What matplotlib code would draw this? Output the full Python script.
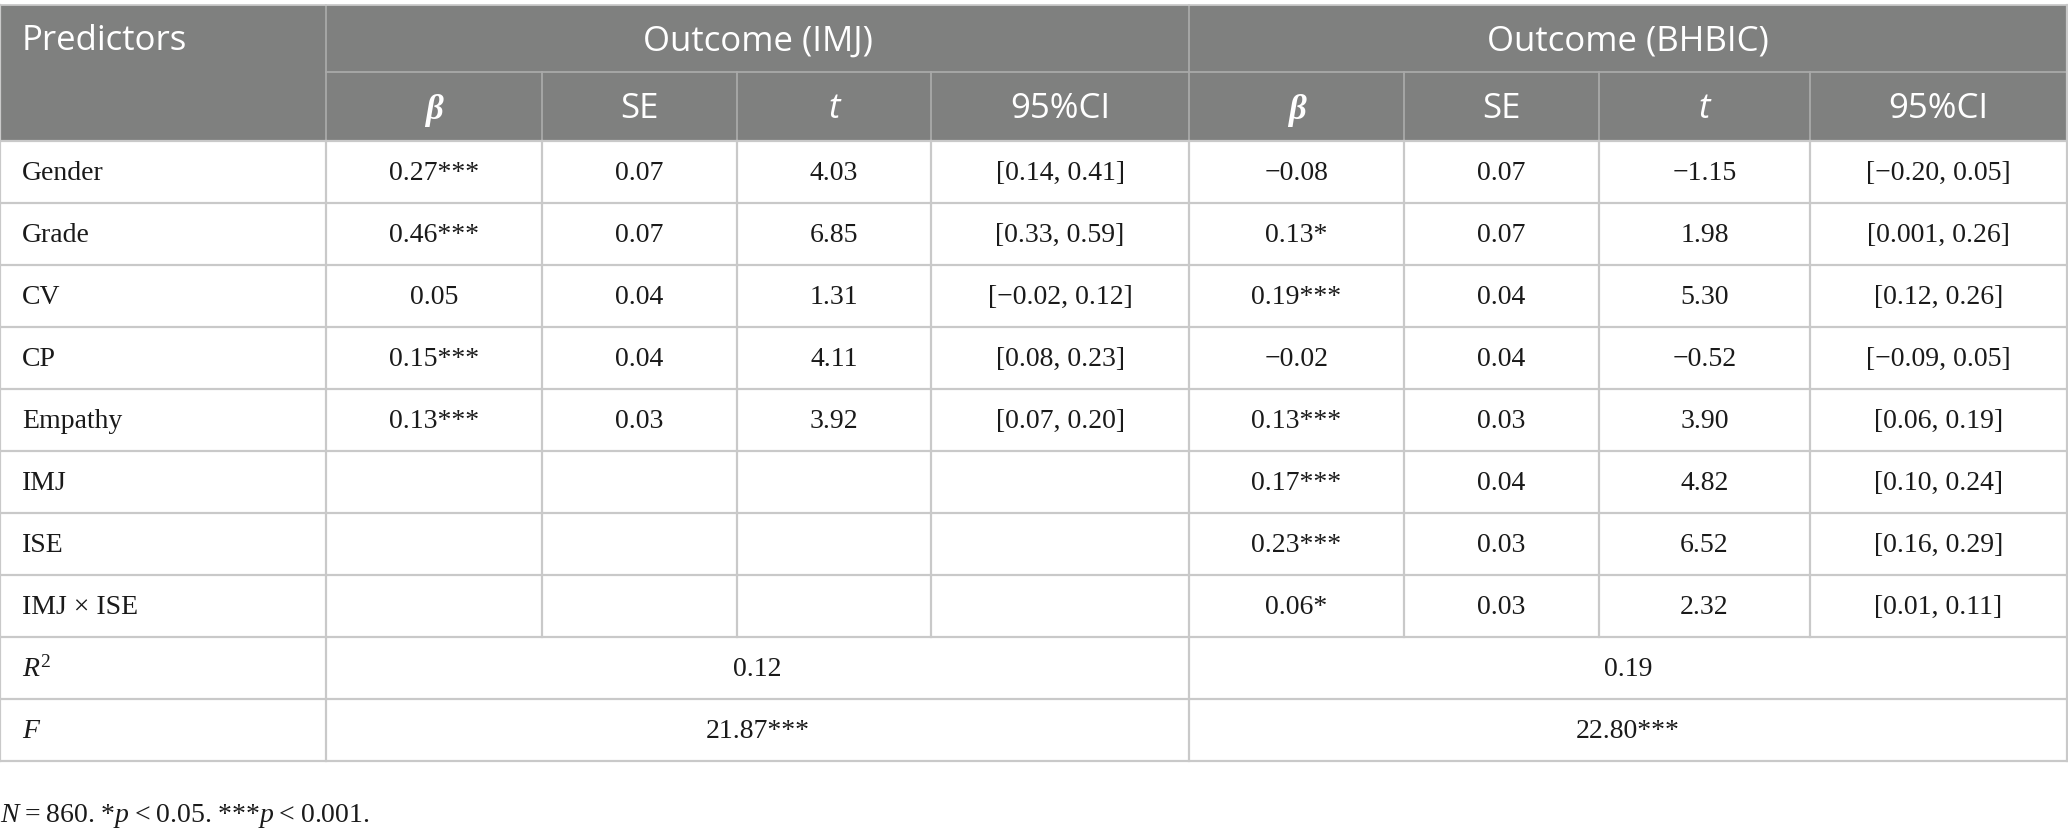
import matplotlib
matplotlib.use("Agg")
import matplotlib.pyplot as plt

# --- table content ---
predictors = ["Gender", "Grade", "CV", "CP", "Empathy", "IMJ", "ISE", "IMJ × ISE"]

imj_beta = ["0.27***", "0.46***", "0.05", "0.15***", "0.13***", "", "", ""]
imj_se = ["0.07", "0.07", "0.04", "0.04", "0.03", "", "", ""]
imj_t = ["4.03", "6.85", "1.31", "4.11", "3.92", "", "", ""]
imj_ci = ["[0.14, 0.41]", "[0.33, 0.59]", "[\u22120.02, 0.12]", "[0.08, 0.23]",
          "[0.07, 0.20]", "", "", ""]

bhbic_beta = ["\u22120.08", "0.13*", "0.19***", "\u22120.02", "0.13***", "0.17***",
              "0.23***", "0.06*"]
bhbic_se = ["0.07", "0.07", "0.04", "0.04", "0.03", "0.04", "0.03", "0.03"]
bhbic_t = ["\u22121.15", "1.98", "5.30", "\u22120.52", "3.90", "4.82", "6.52", "2.32"]
bhbic_ci = ["[\u22120.20, 0.05]", "[0.001, 0.26]", "[0.12, 0.26]", "[\u22120.09, 0.05]",
            "[0.06, 0.19]", "[0.10, 0.24]", "[0.16, 0.29]", "[0.01, 0.11]"]

outcomes = ["Outcome (IMJ)", "Outcome (BHBIC)"]
sub_headers = ["β", "SE", "t", "95%CI"]
r_squared = ["0.12", "0.19"]
f_values = ["21.87***", "22.80***"]
footnote = "$N$\u2009=\u2009860. *$p$\u2009<\u20090.05. ***$p$\u2009<\u20090.001."

# --- layout (pixels) ---
W, H = 2068, 840
col_edges = [0, 326, 542, 737, 931, 1189, 1404, 1599, 1810, 2067]
y_top, y_mid, y_head = 5, 72, 141
row_h = 62
HEAD_BG = "#7f807f"
HEAD_LINE = "#a9a9a9"
GRID = "#c9c9c9"
INK = "#1a1a1a"
HEAD_FONT = "Open Sans"
BODY_FONT = "Liberation Serif"
HEAD_SIZE = 25
BODY_SIZE = 20

plt.rcParams["mathtext.fontset"] = "custom"
plt.rcParams["mathtext.rm"] = "Liberation Serif"
plt.rcParams["mathtext.it"] = "Liberation Serif:italic"

fig = plt.figure(figsize=(W / 100, H / 100), dpi=100)
ax = fig.add_axes([0, 0, 1, 1])
ax.set_xlim(0, W)
ax.set_ylim(H, 0)
ax.axis("off")

n_rows = len(predictors) + 2
y_bottom = y_head + n_rows * row_h

# header background
ax.fill_between([col_edges[0], col_edges[-1]], y_top, y_head, color=HEAD_BG, lw=0)

# header lines
ax.plot([col_edges[1], col_edges[-1]], [y_mid, y_mid], color=HEAD_LINE, lw=1.3)
for x in (col_edges[1], col_edges[5]):
    ax.plot([x, x], [y_top, y_head], color=HEAD_LINE, lw=1.3)
for x in col_edges[2:5] + col_edges[6:9]:
    ax.plot([x, x], [y_mid, y_head], color=HEAD_LINE, lw=1.3)
ax.plot([col_edges[0], col_edges[-1]], [y_top, y_top], color=GRID, lw=1.3)

# body grid
for i in range(n_rows + 1):
    y = y_head + i * row_h
    ax.plot([col_edges[0], col_edges[-1]], [y, y], color=GRID, lw=1.6)
for j, x in enumerate(col_edges):
    if j in (0, 1, 5, 9):
        ax.plot([x, x], [y_top if j in (0, 9) else y_head, y_bottom], color=GRID, lw=1.6)
    else:
        ax.plot([x, x], [y_head, y_head + len(predictors) * row_h], color=GRID, lw=1.6)

# header text
ax.text(22, (y_top + y_mid) / 2 + 3, "Predictors", color="white", fontsize=HEAD_SIZE,
        family=HEAD_FONT, ha="left", va="center")
for k, name in enumerate(outcomes):
    x0, x1 = col_edges[1 + 4 * k], col_edges[5 + 4 * k]
    ax.text((x0 + x1) / 2, (y_top + y_mid) / 2 + 3, name, color="white",
            fontsize=HEAD_SIZE, family=HEAD_FONT, ha="center", va="center")
    for m, sub in enumerate(sub_headers):
        cx = (col_edges[1 + 4 * k + m] + col_edges[2 + 4 * k + m]) / 2
        cy = (y_mid + y_head) / 2 + 2
        if sub == "β":
            ax.text(cx, cy + 2, sub, color="white", fontsize=HEAD_SIZE, family=BODY_FONT,
                    style="italic", weight="bold", ha="center", va="center")
        elif sub == "t":
            ax.text(cx, cy, sub, color="white", fontsize=HEAD_SIZE, family=HEAD_FONT,
                    style="italic", ha="center", va="center")
        else:
            ax.text(cx, cy, sub, color="white", fontsize=HEAD_SIZE, family=HEAD_FONT,
                    ha="center", va="center")

# body text
columns = [imj_beta, imj_se, imj_t, imj_ci, bhbic_beta, bhbic_se, bhbic_t, bhbic_ci]
for i, label in enumerate(predictors):
    cy = y_head + (i + 0.5) * row_h + 1
    ax.text(22, cy, label, color=INK, fontsize=BODY_SIZE, family=BODY_FONT,
            ha="left", va="center")
    for j, col in enumerate(columns):
        if col[i]:
            cx = (col_edges[j + 1] + col_edges[j + 2]) / 2
            ax.text(cx, cy, col[i], color=INK, fontsize=BODY_SIZE, family=BODY_FONT,
                    ha="center", va="center")

# summary rows
for r, (label, vals) in enumerate([(r"$R^2$", r_squared), (r"$F$", f_values)]):
    cy = y_head + (len(predictors) + r + 0.5) * row_h + 1
    ax.text(22, cy, label, color=INK, fontsize=BODY_SIZE, family=BODY_FONT,
            ha="left", va="center")
    for k, v in enumerate(vals):
        cx = (col_edges[1 + 4 * k] + col_edges[5 + 4 * k]) / 2
        ax.text(cx, cy, v, color=INK, fontsize=BODY_SIZE, family=BODY_FONT,
                ha="center", va="center")

ax.text(0, 816, footnote, color=INK, fontsize=BODY_SIZE, family=BODY_FONT,
        ha="left", va="center")

fig.savefig("out.png", dpi=100)
